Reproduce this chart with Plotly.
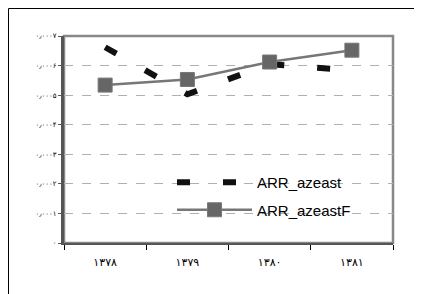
import plotly.graph_objects as go

years = ["۱۳۷۸", "۱۳۷۹", "۱۳۸۰", "۱۳۸۱"]
arr_azeast = [0.000662, 0.000503, 0.000605, 0.000584]
arr_azeastF = [0.000534, 0.000553, 0.000612, 0.000652]
ytick_vals = [0, 0.0001, 0.0002, 0.0003, 0.0004, 0.0005, 0.0006, 0.0007]
ytick_text = ["۰", "۰٫۰۰۰۱", "۰٫۰۰۰۲", "۰٫۰۰۰۳", "۰٫۰۰۰۴", "۰٫۰۰۰۵", "۰٫۰۰۰۶", "۰٫۰۰۰۷"]

fig = go.Figure()
fig.add_trace(go.Scatter(
    x=years, y=arr_azeast, name="ARR_azeast", mode="lines",
    line=dict(color="#111111", width=6, dash="13px,33px"),
    legendgroup="a",
))
fig.add_trace(go.Scatter(
    x=years, y=arr_azeastF, name="ARR_azeastF", mode="lines+markers",
    line=dict(color="#777777", width=2.5),
    marker=dict(symbol="square", size=14, color="#666666",
                line=dict(color="#777777", width=1)),
    legendgroup="b",
))

# page body has an 8px margin, so figure origin is at screen (8, 8)
OFF = 8
W, H = 422 - OFF, 294 - OFF
L, R, T, B = 56, 29, 28, 51
pw, ph = W - L - R, H - T - B

def px2x(px):
    return (px - L) / pw

def px2y(py):
    return (H - B - py) / ph

fig.update_layout(
    width=W, height=H,
    margin=dict(l=L, r=R, t=T, b=B),
    paper_bgcolor="white", plot_bgcolor="white",
    font=dict(family="Liberation Sans, Arial", color="black"),
    showlegend=True,
    legend=dict(
        x=px2x(164), y=px2y(158), xanchor="left", yanchor="top",
        bgcolor="rgba(0,0,0,0)", font=dict(size=15, family="Liberation Sans, Arial"),
        traceorder="grouped", tracegroupgap=5, itemwidth=75,
    ),
    xaxis=dict(
        type="category", tickson="boundaries", range=[-0.5, 3.5],
        showgrid=False, zeroline=False,
        showline=True, linecolor="#555555", linewidth=2,
        ticks="outside", ticklen=5, tickcolor="black", tickwidth=1,
        ticklabelstandoff=8,
        tickfont=dict(size=11, family="DejaVu Sans"),
    ),
    yaxis=dict(
        range=[0, 0.0007], tickvals=ytick_vals, ticktext=ytick_text,
        showgrid=True, gridcolor="#b0b0b0", griddash="dash", gridwidth=1,
        zeroline=False,
        showline=True, linecolor="#555555", linewidth=3,
        ticks="outside", ticklen=3, tickcolor="#555555",
        tickfont=dict(size=7, family="DejaVu Sans"),
    ),
    shapes=[
        dict(type="rect", xref="paper", yref="paper", x0=0, x1=1, y0=0, y1=1,
             line=dict(color="#888888", width=2.5), layer="below"),
        dict(type="line", xref="paper", yref="paper",
             x0=px2x(0.5), x1=px2x(W + 20), y0=px2y(0.5), y1=px2y(0.5),
             line=dict(color="black", width=1)),
        dict(type="line", xref="paper", yref="paper",
             x0=px2x(0.5), x1=px2x(0.5), y0=px2y(0.5), y1=px2y(H + 20),
             line=dict(color="black", width=1)),
    ],
)

fig.write_html("out.html")
